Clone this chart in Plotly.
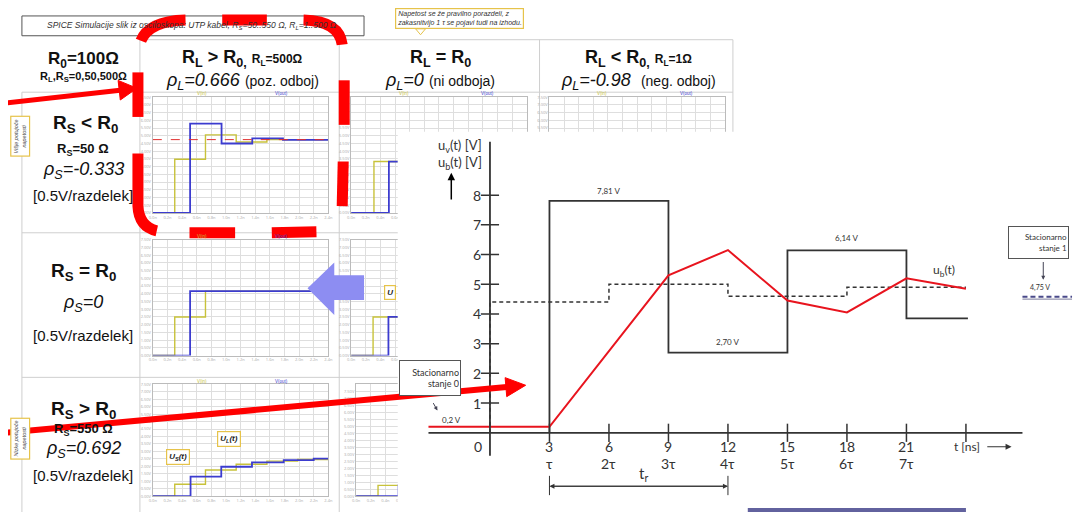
import plotly.graph_objects as go

W, H = 1082, 514
OFF = 8                      # page body margin of the browser
FW, FH = W - OFF, H - OFF    # figure size so the page fits the window
def PX(x): return (x - OFF) / FW
def PY(y): return 1 - (y - OFF) / FH

# ---------------- main chart data ----------------
t_ticks = [3, 6, 9, 12, 15, 18, 21]
tau_labels = ["τ", "2τ", "3τ", "4τ", "5τ", "6τ", "7τ"]
v_ticks = [1, 2, 3, 4, 5, 6, 7, 8]
us_t = [3, 3, 9, 9, 15, 15, 21, 21, 24.1]
us_v = [0, 7.81, 7.81, 2.70, 2.70, 6.14, 6.14, 3.85, 3.85]
ub_t = [-3.1, 3, 9, 12, 15, 18, 21, 24]
ub_v = [0.2, 0.2, 5.3, 6.15, 4.45, 4.05, 5.2, 4.85]
avg_t = [0, 0, 6, 6, 12, 12, 18, 18, 24]
avg_v = [0, 4.4, 4.4, 5.0, 5.0, 4.6, 4.6, 4.9, 4.9]
level_labels = ["7,81 V", "2,70 V", "6,14 V"]
level_t = [6, 12, 18]
level_v = [8.15, 3.05, 6.55]

# ---------------- small SPICE plots data (x in divisions, y in V) ----------------
r1c2_in_x = [0, 1.5, 3.6, 5.7, 7.8, 12]
r1c2_in_y = [0, 3.48, 5.06, 4.6, 4.75, 4.75]
r1c2_out_x = [0, 2.55, 4.7, 6.8, 8.9, 12]
r1c2_out_y = [0, 5.79, 4.5, 4.83, 4.73, 4.73]
r1c2_ref_x = [0, 12]
r1c2_ref_y = [4.75, 4.75]
r2c2_in_x = [0, 1.5, 3.6, 12]
r2c2_in_y = [0, 2.5, 4.17, 4.17]
r2c2_out_x = [0, 2.55, 12]
r2c2_out_y = [0, 4.17, 4.17]
r3c2_in_x = [0, 1.5, 3.6, 5.7, 7.8, 9.9, 12]
r3c2_in_y = [0, 0.8, 1.75, 2.14, 2.35, 2.46, 2.5]
r3c2_out_x = [0, 2.58, 4.68, 6.78, 8.95, 11.0, 12]
r3c2_out_y = [0, 1.31, 1.97, 2.26, 2.41, 2.52, 2.52]
r1c3_in_x = [0, 1.56, 12]
r1c3_in_y = [0, 3.33, 3.33]
r1c3_out_x = [0, 2.58, 12]
r1c3_out_y = [0, 3.33, 3.33]
r2c3_in_x = [0, 1.5, 12]
r2c3_in_y = [0, 2.5, 2.5]
r2c3_out_x = [0, 2.55, 12]
r2c3_out_y = [0, 2.5, 2.5]
r3c3_in_x = [0, 1.5, 12]
r3c3_in_y = [0, 0.77, 0.77]
r3c3_out_x = [0, 2.9, 12]
r3c3_out_y = [0, 0.77, 0.77]
r1c4_in_x = [0, 1.5, 3.6, 12]
r1c4_in_y = [0, 3.33, 0.1, 0.1]
r1c4_out_x = [0, 2.55, 12]
r1c4_out_y = [0, 0.07, 0.07]
div_ticks = list(range(13))
div_labels = ["%.1fn" % (0.2 * i) for i in div_ticks]
volt_ticks = [0.5 * i for i in range(16)]
volt_labels = ["%.2fV" % v for v in volt_ticks]

YEL = "#c8c23a"
BLU = "#3c3ccf"

fig = go.Figure()
layout = dict(width=FW, height=FH, margin=dict(l=0, r=0, t=0, b=0),
              paper_bgcolor="white", plot_bgcolor="white", showlegend=False)

small_plots = [
    (150, 327, 95, 212, 7.5, (r1c2_in_x, r1c2_in_y), (r1c2_out_x, r1c2_out_y), (r1c2_ref_x, r1c2_ref_y)),
    (150, 327, 239, 356, 7.5, (r2c2_in_x, r2c2_in_y), (r2c2_out_x, r2c2_out_y), None),
    (150, 327, 385, 498, 7.5, (r3c2_in_x, r3c2_in_y), (r3c2_out_x, r3c2_out_y), None),
    (350, 527, 95, 212, 7.5, (r1c3_in_x, r1c3_in_y), (r1c3_out_x, r1c3_out_y), None),
    (350, 527, 239, 356, 7.5, (r2c3_in_x, r2c3_in_y), (r2c3_out_x, r2c3_out_y), None),
    (355, 532, 385, 498, 8.0, (r3c3_in_x, r3c3_in_y), (r3c3_out_x, r3c3_out_y), None),
    (550, 727, 95, 212, 7.5, (r1c4_in_x, r1c4_in_y), (r1c4_out_x, r1c4_out_y), None),
]

for i, (x0, x1, y0, y1, ymax, pin, pout, ref) in enumerate(small_plots, start=1):
    xa = "x" if i == 1 else "x%d" % i
    ya = "y" if i == 1 else "y%d" % i
    kx = "xaxis" if i == 1 else "xaxis%d" % i
    ky = "yaxis" if i == 1 else "yaxis%d" % i
    layout[kx] = dict(domain=[PX(x0), PX(x1)], range=[0, 12], anchor=ya,
                      tickvals=div_ticks, ticktext=div_labels, tickfont=dict(size=4, color="#aaa"),
                      showgrid=True, gridcolor="#dedede", gridwidth=1, zeroline=False,
                      showline=True, mirror=True, linecolor="#bbbbbb", linewidth=1, ticks="")
    layout[ky] = dict(domain=[PY(y1), PY(y0)], range=[0, ymax], anchor=xa,
                      tickvals=volt_ticks, ticktext=volt_labels, tickfont=dict(size=4, color="#aaa"),
                      showgrid=True, gridcolor="#dedede", gridwidth=1, zeroline=False,
                      showline=True, mirror=True, linecolor="#bbbbbb", linewidth=1, ticks="")
    fig.add_trace(go.Scatter(x=pin[0], y=pin[1], mode="lines", line=dict(color=YEL, width=1.4, shape="hv"),
                             xaxis=xa, yaxis=ya, hoverinfo="skip"))
    fig.add_trace(go.Scatter(x=pout[0], y=pout[1], mode="lines", line=dict(color=BLU, width=1.8, shape="hv"),
                             xaxis=xa, yaxis=ya, hoverinfo="skip"))
    if ref is not None:
        fig.add_trace(go.Scatter(x=ref[0], y=ref[1], mode="lines", line=dict(color="#e03030", width=1, dash="dash"),
                                 xaxis=xa, yaxis=ya, hoverinfo="skip"))

# ---------------- main chart axes (x8/y8) ----------------
layout["xaxis8"] = dict(domain=[PX(397), 1], range=[-4.65, 29.6], anchor="y8", visible=False)
layout["yaxis8"] = dict(domain=[0, PY(130)], range=[-2.667, 10.133], anchor="x8", visible=False)

INK = "#333333"
fig.add_trace(go.Scatter(x=avg_t, y=avg_v, mode="lines", line=dict(color=INK, width=1.5, dash="4px,3px"),
                         xaxis="x8", yaxis="y8", hoverinfo="skip"))
fig.add_trace(go.Scatter(x=us_t, y=us_v, mode="lines", line=dict(color=INK, width=1.8),
                         xaxis="x8", yaxis="y8", hoverinfo="skip"))
fig.add_trace(go.Scatter(x=ub_t, y=ub_v, mode="lines", line=dict(color="#e8141e", width=2),
                         xaxis="x8", yaxis="y8", hoverinfo="skip"))
fig.add_trace(go.Scatter(x=t_ticks + [24], y=[0] * (len(t_ticks) + 1), mode="markers",
                         marker=dict(symbol="line-ns", size=13, line=dict(color=INK, width=1.5)),
                         xaxis="x8", yaxis="y8", hoverinfo="skip"))
fig.add_trace(go.Scatter(x=[0] * len(v_ticks), y=v_ticks, mode="markers",
                         marker=dict(symbol="line-ew", size=13, line=dict(color=INK, width=1.5)),
                         xaxis="x8", yaxis="y8", hoverinfo="skip"))

shapes = []
anns = []

# table grid
GRID = "#cfcfcf"
for yy, xa0 in [(37, 137), (90, 18), (232, 18), (378, 18)]:
    shapes.append(dict(type="line", xref="paper", yref="paper", x0=PX(xa0), x1=PX(735), y0=PY(yy), y1=PY(yy),
                       line=dict(color=GRID, width=1), layer="below"))
for xx in [18, 137, 338, 540, 735]:
    shapes.append(dict(type="line", xref="paper", yref="paper", x0=PX(xx), x1=PX(xx), y0=PY(37 if xx != 18 else 90), y1=PY(514),
                       line=dict(color=GRID, width=1), layer="below"))

# white overlay for the inserted figure (inside main subplot so it covers the small plots)
shapes.append(dict(type="rect", xref="x8", yref="y8", x0=-4.65, x1=29.6, y0=-2.667, y1=10.133,
                   fillcolor="white", line=dict(width=0), layer="below"))

# main axes lines
shapes.append(dict(type="line", xref="x8", yref="y8", x0=-3.1, x1=26.85, y0=0, y1=0,
                   line=dict(color=INK, width=1.8)))
shapes.append(dict(type="line", xref="x8", yref="y8", x0=0, x1=0, y0=-0.77, y1=9.8,
                   line=dict(color=INK, width=1.8)))

def A(x, y, text, size=14, **kw):
    d = dict(xref="x8", yref="y8", x=x, y=y, text=text, showarrow=False, xanchor="center", yanchor="middle",
             font=dict(family="Lato", size=size, color=INK))
    d.update(kw)
    anns.append(d)

def ARW(x, y, ax, ay, width=1.2, size=1.0, color=INK):
    anns.append(dict(xref="x8", yref="y8", x=x, y=y, ax=ax, ay=ay, axref="x8", ayref="y8", text="",
                     showarrow=True, arrowhead=2, arrowsize=size, arrowwidth=width, arrowcolor=color))

# t_r dimension line
ARW(3, -1.8, 12, -1.8, width=1)
ARW(12, -1.8, 3, -1.8, width=1)
shapes.append(dict(type="line", xref="x8", yref="y8", x0=3, x1=3, y0=-1.45, y1=-2.1, line=dict(color=INK, width=1)))
shapes.append(dict(type="line", xref="x8", yref="y8", x0=12, x1=12, y0=-1.45, y1=-2.1, line=dict(color=INK, width=1)))
A(7.75, -1.4, "t<sub>r</sub>", 15)

for t, lab in zip(t_ticks, tau_labels):
    A(t, -0.45, str(t))
    A(t, -1.05, lab)
A(-0.6, -0.45, "0")
for v in v_ticks:
    A(-0.65, v, str(v))
A(24.05, -0.47, "t [ns]", 12)
ARW(26.3, -0.47, 25.0, -0.47)
A(-1.5, 9.65, "u<sub>v</sub>(t) [V]", 13)
A(-1.5, 9.07, "u<sub>b</sub>(t) [V]", 13)
ARW(-1.95, 8.75, -1.95, 7.8, width=1.5, color="black")
for lab, t, v in zip(level_labels, level_t, level_v):
    A(t, v, lab, 8)
A(-1.95, 0.42, "0,2 V", 8)
A(22.9, 5.45, "u<sub>b</sub>(t)", 12)
# stationary state boxes
A(-3.03, 1.83, "Stacionarno<br>stanje 0", 9, align="right", width=58, height=32,
  bordercolor="#555", borderwidth=1, bgcolor="white")
ARW(-2.65, 0.75, -2.9, 1.05, width=1, size=0.8, color="#445")
A(27.67, 6.42, "Stacionarno<br>stanje 1", 8, align="right", width=57, height=29,
  bordercolor="#555", borderwidth=1, bgcolor="white")
ARW(27.9, 5.15, 27.9, 5.8, width=1, size=0.8, color="#445")
A(27.75, 4.88, "4,75 V", 7)
shapes.append(dict(type="line", xref="x8", yref="y8", x0=26.85, x1=29.35, y0=4.5, y1=4.5,
                   line=dict(color="#7a7a9a", width=1)))
shapes.append(dict(type="line", xref="x8", yref="y8", x0=26.85, x1=29.35, y0=4.58, y1=4.58,
                   line=dict(color="#4a4a8a", width=2, dash="5px,3px")))

# purple bar at bottom
shapes.append(dict(type="rect", xref="paper", yref="paper", x0=PX(750), x1=PX(970), y0=PY(514), y1=PY(510),
                   fillcolor="#62629e", line=dict(width=0)))

# ---------------- table texts ----------------
AR = "Liberation Sans"
def T(x, y, text, size, **kw):
    d = dict(xref="paper", yref="paper", x=PX(x), y=PY(y), text=text, showarrow=False,
             xanchor="center", yanchor="middle", font=dict(family=AR, size=size, color="#111"))
    d.update(kw)
    anns.append(d)

T(80, 57, "<b>R<sub>0</sub>=100Ω</b>", 17)
T(80, 75, "<b>R<sub>L</sub>,R<sub>S</sub>=0,50,500Ω</b>", 11)
T(240, 56, "<b>R<sub>L</sub> &gt; R<sub>0,</sub> <span style='font-size:12px'>R<sub>L</sub>=500Ω</span></b>", 18)
T(240, 79, "<i>ρ<sub>L</sub>=0.666</i> <span style='font-size:14px'>(poz. odboj)</span>", 18)
T(440, 56, "<b>R<sub>L</sub> = R<sub>0</sub></b>", 18)
T(440, 79, "<i>ρ<sub>L</sub>=0</i> <span style='font-size:14px'>(ni odboja)</span>", 18)
T(640, 56, "<b>R<sub>L</sub> &lt; R<sub>0,</sub> <span style='font-size:12px'>R<sub>L</sub>=1Ω</span></b>", 18)
T(640, 79, "<i>ρ<sub>L</sub>=-0.98</i>  <span style='font-size:14px'>(neg. odboj)</span>", 18)

T(82, 122, "<b>R<sub>S</sub> &lt; R<sub>0</sub></b>", 19)
T(80, 148, "<b>R<sub>S</sub>=50 Ω</b>", 13)
T(80, 169, "<i>ρ<sub>S</sub>=-0.333</i>", 18)
T(80, 194, "[0.5V/razdelek]", 15)
T(80, 272, "<b>R<sub>S</sub> = R<sub>0</sub></b>", 19)
T(80, 303, "<i>ρ<sub>S</sub>=0</i>", 18)
T(80, 336, "[0.5V/razdelek]", 15)
T(80, 411, "<b>R<sub>S</sub> &gt; R<sub>0</sub></b>", 19)
T(80, 431, "<b>R<sub>S</sub>=550 Ω</b>", 13)
T(80, 451, "<i>ρ<sub>S</sub>=0.692</i>", 18)
T(80, 477, "[0.5V/razdelek]", 15)

# SPICE title box
shapes.append(dict(type="rect", xref="paper", yref="paper", x0=PX(18), x1=PX(363), y0=PY(33), y1=PY(13),
                   line=dict(color="#555", width=1), fillcolor="white", layer="below"))
T(190, 23, "<i>SPICE Simulacije slik iz osciloskopa: UTP kabel, R<sub>S</sub>=50..550 Ω, R<sub>L</sub>=1..500 Ω</i>", 8.5,
  font=dict(family=AR, size=8.5, color="#333"))
# yellow callout top
T(459, 16, "<i>Napetost se že pravilno porazdeli, z<br>zakasnitvijo 1 τ se pojavi tudi na izhodu.</i>", 7,
  align="left", bordercolor="#e6c34a", borderwidth=1.2, borderpad=1, bgcolor="white",
  font=dict(family=AR, size=7, color="#333"))
T(16, 134, "<i>Višje potujoče<br>napetosti</i>", 5.5, textangle=-90, bordercolor="#e6c34a", borderwidth=1.2,
  borderpad=2, bgcolor="white", font=dict(family=AR, size=5.5, color="#444"))
T(16, 440, "<i>Nizke potujoče<br>napetosti</i>", 5.5, textangle=-90, bordercolor="#e6c34a", borderwidth=1.2,
  borderpad=2, bgcolor="white", font=dict(family=AR, size=5.5, color="#444"))
# small plot callouts
T(175, 458, "<b><i>U<sub>S</sub>(t)</i></b>", 8, bordercolor="#e6c34a", borderwidth=1.2, borderpad=2, bgcolor="white",
  font=dict(family=AR, size=8, color="#222"))
T(227, 440, "<b><i>U<sub>L</sub>(t)</i></b>", 8, bordercolor="#e6c34a", borderwidth=1.2, borderpad=2, bgcolor="white",
  font=dict(family=AR, size=8, color="#222"))
T(389, 292, "<b><i>U</i></b>", 8, bordercolor="#e6c34a", borderwidth=1.2, borderpad=2, bgcolor="white",
  font=dict(family=AR, size=8, color="#222"))
# V(in)/V(out) labels on small plots
for xin, xout, yy in [(200, 280, 91), (200, 280, 236), (200, 280, 382), (403, 488, 91), (603, 688, 91)]:
    T(xin, yy, "V(in)", 4.5, font=dict(family=AR, size=4.5, color=YEL))
    T(xout, yy, "V(out)", 4.5, font=dict(family=AR, size=4.5, color=BLU))

# ---------------- overlay decorations ----------------
def pt(x, y):
    return "%.5f,%.5f" % (PX(x), PY(y))

def path(points, close=True):
    s = "M " + " L ".join(pt(x, y) for x, y in points)
    return s + (" Z" if close else "")

RED = "#ff0000"
# hand-drawn dashed frame, one path per dash
dash_paths = [
    "M %s Q %s %s" % (pt(138, 38), pt(146, 18), pt(183, 17)),
    "M %s L %s" % (pt(220, 17), pt(265, 17)),
    "M %s Q %s %s" % (pt(302, 17), pt(338, 18), pt(341, 42)),
    "M %s L %s" % (pt(135, 70), pt(135, 115)),
    "M %s L %s" % (pt(343, 78), pt(343, 123)),
    "M %s L %s" % (pt(342, 160), pt(341, 205)),
    "M %s L %s Q %s %s" % (pt(135, 152), pt(135, 205), pt(136, 226), pt(154, 230)),
    "M %s L %s" % (pt(187, 232), pt(233, 232)),
    "M %s L %s" % (pt(270, 232), pt(315, 231)),
]
for dp in dash_paths:
    shapes.append(dict(type="path", xref="paper", yref="paper", path=dp,
                       line=dict(color=RED, width=11), layer="above"))
shapes.append(dict(type="line", xref="paper", yref="paper", x0=PX(0), y0=PY(101), x1=PX(117), y1=PY(88),
                   line=dict(color=RED, width=5), layer="above"))
shapes.append(dict(type="path", xref="paper", yref="paper", path=path([(134, 86), (117.2, 97.9), (115, 78.1)]),
                   fillcolor=RED, line=dict(color=RED, width=1), layer="above"))
shapes.append(dict(type="line", xref="paper", yref="paper", x0=PX(0), y0=PY(434), x1=PX(507), y1=PY(387.8),
                   line=dict(color=RED, width=6), layer="above"))
shapes.append(dict(type="path", xref="paper", yref="paper", path=path([(526, 386), (506.9, 397.5), (505.3, 378.3)]),
                   fillcolor=RED, line=dict(color=RED, width=1), layer="above"))
shapes.append(dict(type="path", xref="paper", yref="paper",
                   path=path([(306, 288), (333, 262), (333, 275), (363, 275), (363, 300), (333, 300), (333, 315)]),
                   fillcolor="#8d8df2", line=dict(width=0), layer="above"))
shapes.append(dict(type="path", xref="paper", yref="paper", path=path([(415, 26), (425, 26), (420, 32)]),
                   fillcolor="white", line=dict(color="#e6c34a", width=1), layer="above"))

layout["shapes"] = shapes
layout["annotations"] = anns
fig.update_layout(**layout)
fig.write_html("out.html")
